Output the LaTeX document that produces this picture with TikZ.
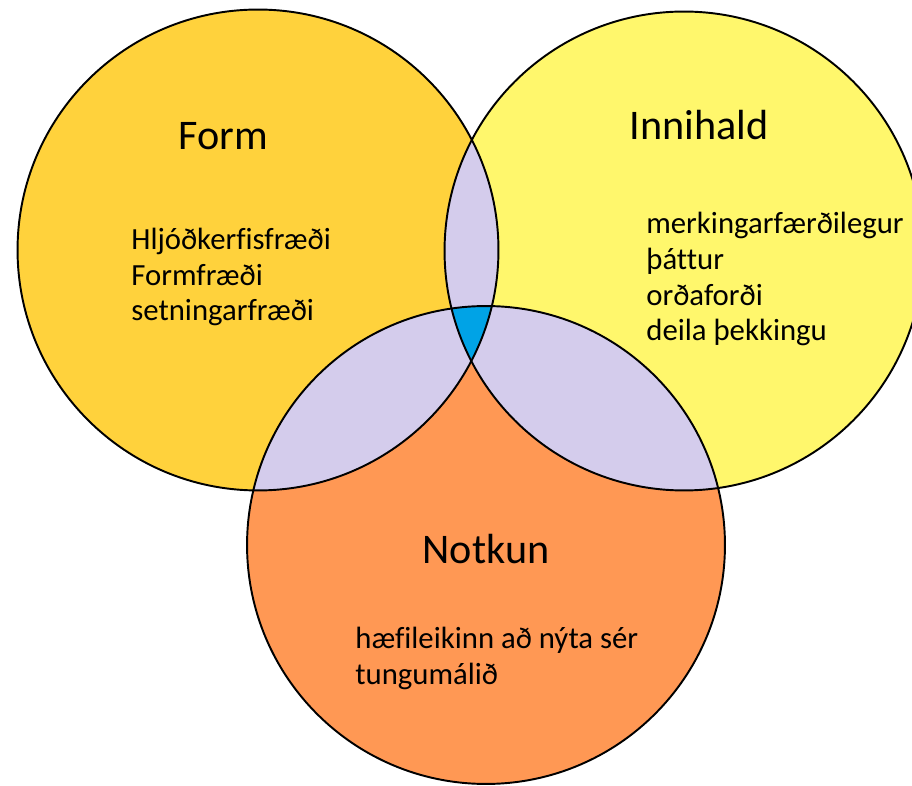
\documentclass[tikz,border=0pt]{standalone}
\usepackage{fontspec}
\setmainfont{Carlito}[Ligatures=CommonOff]

\definecolor{formgold}{RGB}{255,210,60}
\definecolor{inniyellow}{RGB}{255,247,108}
\definecolor{notkunorange}{RGB}{255,152,84}
\definecolor{overlap}{RGB}{212,204,236}
\definecolor{middle}{RGB}{0,163,230}

\def\rform{4.81cm}
\def\rinni{4.79cm}
\def\rnotkun{4.78cm}

\begin{document}
\begin{tikzpicture}[
  x=0.02cm, y=-0.02cm, % one unit is one pixel of the sketch
  ring/.style={draw=black, line width=1.1pt}, % circle outlines
  title/.style={font=\fontsize{24}{29}\selectfont, text=black, anchor=base}, % circle titles
  words/.style={font=\fontsize{17.5}{20.3}\selectfont, text=black, align=left, anchor=base west, inner sep=0pt} % lists, placed by last line
]
\useasboundingbox (0,0) rectangle (912,786);

% Circle centres
\coordinate (form) at (258,250);
\coordinate (inni) at (684,251);
\coordinate (notkun) at (486,545);

% Circle fills
\fill[formgold] (form) circle[radius=\rform];
\fill[inniyellow] (inni) circle[radius=\rinni];
\fill[notkunorange] (notkun) circle[radius=\rnotkun];

% Overlaps of two circles
\begin{scope}
  \clip (form) circle[radius=\rform];
  \fill[overlap] (inni) circle[radius=\rinni];
  \fill[overlap] (notkun) circle[radius=\rnotkun];
\end{scope}
\begin{scope}
  \clip (inni) circle[radius=\rinni];
  \fill[overlap] (notkun) circle[radius=\rnotkun];
\end{scope}

% Overlap of all three
\begin{scope}
  \clip (form) circle[radius=\rform];
  \clip (inni) circle[radius=\rinni];
  \fill[middle] (notkun) circle[radius=\rnotkun];
\end{scope}

% Outlines
\draw[ring] (form) circle[radius=\rform];
\draw[ring] (inni) circle[radius=\rinni];
\draw[ring] (notkun) circle[radius=\rnotkun];

% Titles
\node[title] (formtitle) at (223,150) {Form};
\node[title] (innititle) at (699,140) {Innihald};
\node[title] (notkuntitle) at (486,563) {Notkun};

% Lists
\node[words] (formwords) at (131,321) {Hljóðkerfisfræði\\Formfræði\\setningarfræði};
\node[words] (inniwords) at (646,341) {merkingarfærðilegur\\þáttur\\orðaforði\\deila þekkingu};
\node[words] (notkunwords) at (355,684) {hæfileikinn að nýta sér\\tungumálið};

\end{tikzpicture}
\end{document}
